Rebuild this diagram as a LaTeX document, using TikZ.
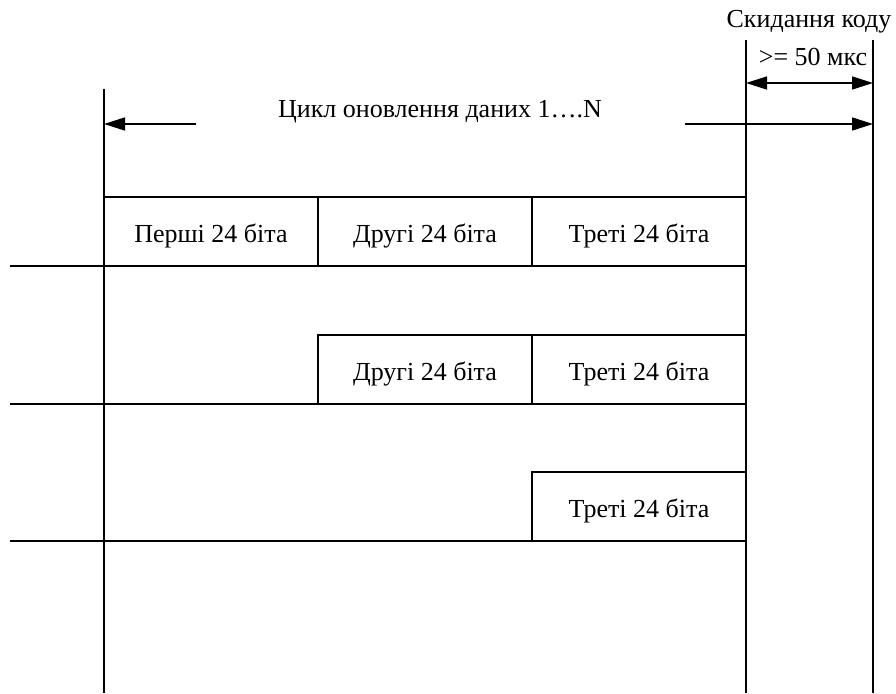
\documentclass[tikz,border=0pt]{standalone}
\usepackage{fontspec}
\setmainfont{Liberation Serif}
\usetikzlibrary{arrows.meta}
\begin{document}
\begin{tikzpicture}[x=1pt,y=-1pt, line width=1.5pt,
  bitbox/.style={draw, rectangle, minimum width=214pt, minimum height=69pt, inner sep=0pt, outer sep=0pt,
    text height=21pt, text depth=0pt, font=\fontsize{26}{30}\selectfont},
  lbl/.style={font=\fontsize{26}{30}\selectfont, inner sep=0pt, anchor=base},
  arr/.style={-{Triangle[length=21pt,width=13pt]}},
  darr/.style={{Triangle[length=21pt,width=13pt]}-{Triangle[length=21pt,width=13pt]}}]
\useasboundingbox (0,0) rectangle (896,693);
% vertical lines
\coordinate (L1) at (104,89);  \coordinate (L2) at (104,693);
\coordinate (M1) at (746,40);  \coordinate (M2) at (746,693);
\coordinate (R1) at (873,40);  \coordinate (R2) at (873,693);
\draw (L1) -- (L2);
\draw (M1) -- (M2);
\draw (R1) -- (R2);
% labels
\node[lbl] (reset) at (809,28) {Скидання коду};
\node[lbl] (min) at (813,65) {>= 50 мкс};
\node[lbl] (cycle) at (440,117) {Цикл оновлення даних 1….N};
% arrows
\coordinate (a1s) at (196,124); \coordinate (a1e) at (104,124);
\coordinate (a2s) at (685,124); \coordinate (a2e) at (873,124);
\coordinate (d1) at (746,83);   \coordinate (d2) at (873,83);
\draw[arr] (a1s) -- (a1e);
\draw[arr] (a2s) -- (a2e);
\draw[darr] (d1) -- (d2);
% row 1
\node[bitbox] (b11) at (211,231.5) {Перші 24 біта};
\node[bitbox] (b12) at (425,231.5) {Другі 24 біта};
\node[bitbox] (b13) at (639,231.5) {Треті 24 біта};
\coordinate (s1) at (10,266);
\draw (s1) -- (b11.south west);
% row 2
\node[bitbox] (b22) at (425,369.5) {Другі 24 біта};
\node[bitbox] (b23) at (639,369.5) {Треті 24 біта};
\coordinate (s2) at (10,404);
\draw (s2) -- (b22.south west);
% row 3
\node[bitbox] (b33) at (639,506.5) {Треті 24 біта};
\coordinate (s3) at (10,541);
\draw (s3) -- (b33.south west);
\end{tikzpicture}
\end{document}
